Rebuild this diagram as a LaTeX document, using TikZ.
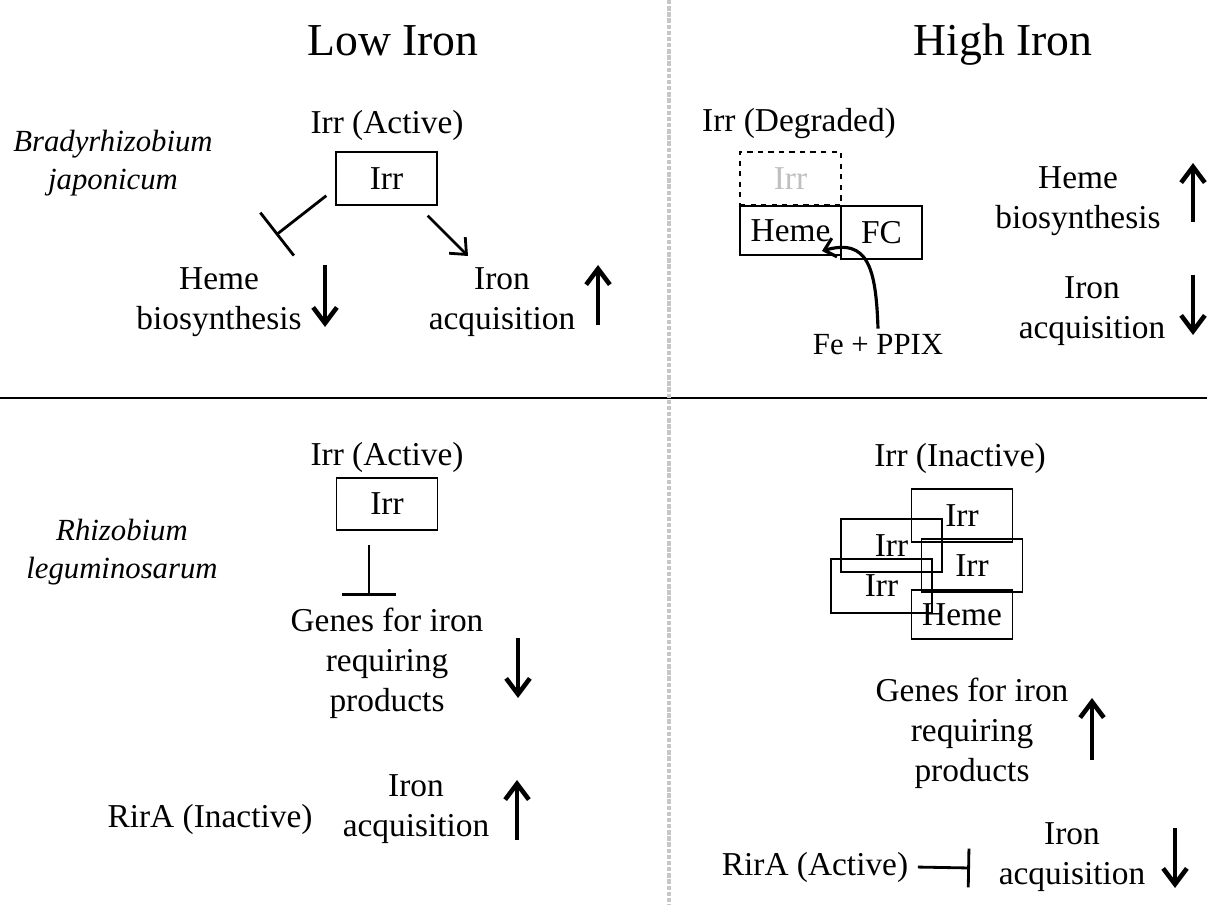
\documentclass[tikz,border=0pt]{standalone}
\usepackage{fontspec}
\setmainfont{Liberation Serif}
\usetikzlibrary{arrows.meta}

\begin{document}
\begin{tikzpicture}[x=0.02cm, y=-0.02cm,
    title/.style={anchor=base, font=\fontsize{26}{30}\selectfont},
    txt/.style={align=center, font=\fontsize{19}{22.7}\selectfont},
    species/.style={align=center, font=\fontsize{17.5}{21.5}\selectfont\itshape},
    irrbox/.style={draw, line width=0.8pt, minimum width=2.02cm, minimum height=1.06cm, inner sep=0pt, font=\fontsize{19}{22.7}\selectfont},
    updown/.style={line width=2.6pt, -{Straight Barb[length=9pt, width=13.5pt]}},
    activate/.style={line width=1.6pt, -{Straight Barb[length=7.5pt, width=13pt]}},
    inhibit/.style={line width=1.6pt, -{Bar[width=31pt]}}
  ]
  \useasboundingbox (0,0) rectangle (1207,905);

  % Quadrant dividers
  \draw[line width=1.7pt] (0,398) -- (1207,398);
  \draw[black!22, line width=2.2pt, dash pattern=on 2.5pt off 1pt] (669,0) -- (669,905);

  % Titles
  \node (low) at (393,56) [title] {Low Iron};
  \node (high) at (1003,56) [title] {High Iron};

  % Species
  \node (brady) at (113,163) [species] {Bradyrhizobium\\japonicum};
  \node (rhizo) at (122,552) [species] {Rhizobium\\leguminosarum};

  % Bradyrhizobium, low iron
  \node (irrActA) at (387,125) [txt] {Irr (Active)};
  \node (irrTL) at (386.5,178.5) [irrbox] {Irr};
  \node (hemeTL) at (219,302) [txt] {Heme\\biosynthesis};
  \node (ironTL) at (502,302) [txt] {Iron\\acquisition};
  \coordinate (hemeBar) at (276,235);
  \coordinate (ironTip) at (468,256);
  \draw[inhibit] ([shift={(-9,-10)}]irrTL.south west) -- (hemeBar);
  \draw[activate] ([shift={(-10,10)}]irrTL.south east) -- (ironTip);

  % Bradyrhizobium, high iron
  \node (irrDeg) at (799,124) [txt] {Irr (Degraded)};
  \node (irrGone) at (790.5,178.5) [irrbox, dashed, text=black!25] {Irr};
  \node (hemeTR) at (790.5,230.5) [irrbox, minimum height=0.98cm] {Heme};
  \node (fc) at (881.5,232.5) [irrbox, minimum width=1.62cm] {FC};
  \node (fe) at (878,345) [txt, font=\fontsize{17.5}{21}\selectfont] {Fe + PPIX};
  \coordinate (hemeTip) at (822,251);
  \draw[line width=1.8pt, -{Straight Barb[length=6pt, width=11pt]}] (fe.north) .. controls (876,268) and (868,238) .. (hemeTip);
  \node (hemeTR2) at (1078,201) [txt] {Heme\\biosynthesis};
  \node (ironTR) at (1092,311) [txt] {Iron\\acquisition};

  % Rhizobium, low iron
  \node (irrActB) at (387,457) [txt] {Irr (Active)};
  \node (irrLB) at (387,504) [irrbox, minimum height=1.04cm] {Irr};
  \node (genesLB) at (387,663) [txt] {Genes for iron\\requiring\\products};
  \coordinate (genesBar) at (369,596);
  \draw[inhibit, shorten <=8pt] (irrLB.south -| genesBar) -- (genesBar);
  \node (rirIn) at (210,819) [txt] {RirA (Inactive)};
  \node (ironLB) at (416,809) [txt] {Iron\\acquisition};

  % Rhizobium, high iron
  \node (irrInact) at (960,458) [txt] {Irr (Inactive)};
  \node (irrA) at (962,515.5) [irrbox] {Irr};
  \node (irrB) at (891.5,545.5) [irrbox] {Irr};
  \node (irrC) at (972,565.5) [irrbox] {Irr};
  \node (irrD) at (881.5,586) [irrbox, minimum height=1.08cm] {Irr};
  \node (hemeBR) at (962,614.5) [irrbox, minimum height=0.98cm] {Heme};
  \node (genesBR) at (972,733) [txt] {Genes for iron\\requiring\\products};
  \node (rirAct) at (815,867) [txt] {RirA (Active)};
  \node (ironBR) at (1072,857) [txt] {Iron\\acquisition};
  \coordinate (ironBar) at (970,868);
  \draw[inhibit, -{Bar[width=22pt]}, shorten <=2pt] (rirAct.east) -- (ironBar);

  % up / down indicators
  \foreach \ax/\ya/\yb in {325/265/327, 598/325/265, 1193/222/163, 1193/275/335,
                           518/638/698, 517/840/780, 1092/760/698, 1175/828/888}
    \draw[updown] (\ax,\ya) -- (\ax,\yb);
\end{tikzpicture}
\end{document}
